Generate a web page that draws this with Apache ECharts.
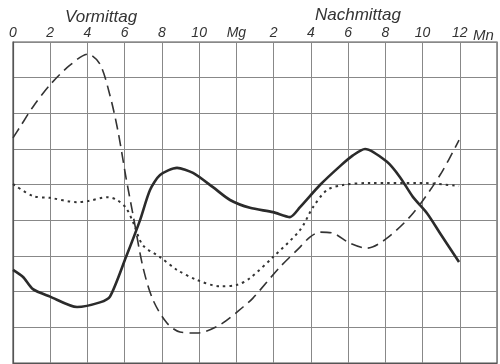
<!DOCTYPE html>
<html>
<head>
<meta charset="utf-8">
<script src="https://cdn.jsdelivr.net/npm/echarts@6/dist/echarts.min.js"></script>
<style>
  html, body { margin: 0; padding: 0; background: #fff; }
  #chart { width: 500px; height: 364px; }
</style>
</head>
<body>
<div id="chart"></div>
<script>
// Stunde 0..24 (Mitternacht bis Mitternacht), y in Kästchen von unten
var tickLabels = ['0', '2', '4', '6', '8', '10', 'Mg', '2', '4', '6', '8', '10', '12', ''];

var solidHours  = [0, 0.54, 1.07, 1.99, 3.44, 4.67, 5.21, 6.07, 6.82, 7.36, 7.9, 8.81, 9.67, 10.74, 11.66, 12.73, 13.97, 14.88, 15.42, 16.49, 17.57, 18.26, 18.91, 20.09, 20.79, 21.49, 22.24, 22.94, 23.96];
var solidValues = [2.61, 2.41, 2.07, 1.86, 1.57, 1.7, 1.86, 2.97, 4.0, 4.85, 5.27, 5.47, 5.33, 4.93, 4.57, 4.35, 4.23, 4.09, 4.37, 4.99, 5.52, 5.82, 6.0, 5.64, 5.21, 4.65, 4.2, 3.64, 2.83];

var dashHours  = [0, 0.38, 1.07, 1.99, 3.06, 4.03, 4.67, 5.21, 5.64, 6.07, 6.45, 6.98, 7.52, 8.27, 8.97, 9.88, 11.12, 12.36, 12.89, 14.34, 15.42, 15.95, 16.49, 17.19, 18.1, 19.02, 20.09, 21.49, 22.94, 23.96];
var dashValues = [6.31, 6.62, 7.18, 7.8, 8.35, 8.66, 8.38, 7.5, 6.5, 5.2, 4.15, 2.69, 1.77, 1.12, 0.87, 0.84, 1.07, 1.57, 1.82, 2.69, 3.25, 3.53, 3.67, 3.64, 3.36, 3.22, 3.5, 4.2, 5.27, 6.25];

var dotHours  = [0, 1.07, 1.99, 3.44, 4.03, 5.1, 5.59, 6.07, 6.45, 6.98, 7.9, 8.81, 9.88, 11.12, 12.03, 12.73, 13.97, 15.42, 16.12, 16.87, 17.73, 19.18, 21.86, 23.96];
var dotValues = [5.02, 4.68, 4.63, 4.51, 4.54, 4.65, 4.57, 4.35, 3.95, 3.3, 2.97, 2.61, 2.33, 2.15, 2.19, 2.38, 2.97, 3.73, 4.37, 4.85, 4.99, 5.05, 5.05, 4.96];

function zip(xs, ys) {
  return xs.map(function (x, i) { return [x, ys[i]]; });
}

var myChart = echarts.init(document.getElementById('chart'));

var labelFont = 'Liberation Sans';
var textStyle = { fontFamily: labelFont, fontStyle: 'italic', fontWeight: 'normal', fontSize: 17, color: '#333' };

var option = {
  animation: false,
  backgroundColor: '#fff',
  title: [
    { text: 'Vormittag', left: 60, top: 4, textStyle: textStyle },
    { text: 'Nachmittag', left: 310, top: 2, textStyle: textStyle },
    // "Mitternacht" neben der 12
    {
      text: 'Mn', left: 468, top: 23,
      textStyle: { fontFamily: labelFont, fontStyle: 'italic', fontWeight: 'normal', fontSize: 15, color: '#333' }
    }
  ],
  grid: {
    left: 13, top: 42, width: 484, height: 321,
    show: true, borderColor: '#555', borderWidth: 1.2
  },
  xAxis: {
    type: 'value',
    position: 'top',
    min: 0, max: 26, interval: 2,
    axisLine: { show: true, lineStyle: { color: '#555', width: 1.2 } },
    axisTick: { show: false },
    axisLabel: {
      show: true, margin: 2,
      fontFamily: labelFont, fontStyle: 'italic', fontSize: 14, color: '#333',
      showMinLabel: true, showMaxLabel: true,
      formatter: function (v) { return tickLabels[Math.round(v / 2)] || ''; }
    },
    splitLine: { show: true, lineStyle: { color: '#888', width: 1 } }
  },
  yAxis: {
    type: 'value',
    min: 0, max: 9, interval: 1,
    axisLine: { show: true, lineStyle: { color: '#555', width: 1.2 } },
    axisTick: { show: false },
    axisLabel: { show: false },
    splitLine: { show: true, lineStyle: { color: '#888', width: 1 } }
  },
  series: [
    {
      name: 'voll',
      type: 'line',
      smooth: 0.25,
      symbol: 'none',
      lineStyle: { color: '#2b2b2b', width: 2.6 },
      data: zip(solidHours, solidValues)
    },
    {
      name: 'gestrichelt',
      type: 'line',
      smooth: 0.3,
      symbol: 'none',
      lineStyle: { color: '#333', width: 1.6, type: [11, 6] },
      data: zip(dashHours, dashValues)
    },
    {
      name: 'punktiert',
      type: 'line',
      smooth: 0.3,
      symbol: 'none',
      lineStyle: { color: '#333', width: 2, type: [2.5, 4] },
      data: zip(dotHours, dotValues)
    }
  ]
};

myChart.setOption(option);
</script>
</body>
</html>
